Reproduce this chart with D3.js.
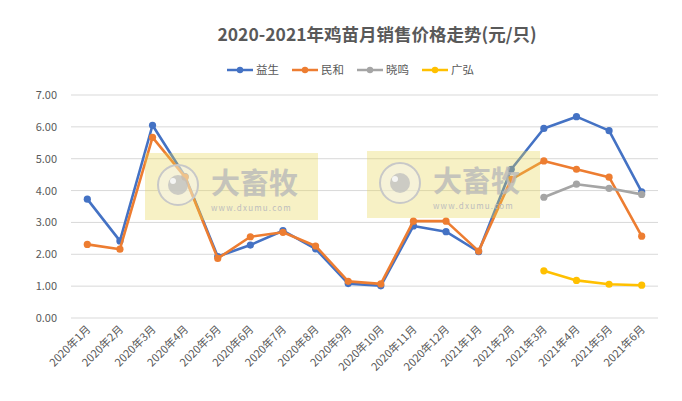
<!DOCTYPE html>
<html><head><meta charset="utf-8">
<script src="https://cdn.jsdelivr.net/npm/d3@7"></script>
<style>body{margin:0;background:#fff;font-family:"Microsoft YaHei","Noto Sans CJK SC",sans-serif}</style>
</head><body><svg id="c" width="682" height="401"></svg>
<script>
const categories=["2020年1月","2020年2月","2020年3月","2020年4月","2020年5月","2020年6月","2020年7月","2020年8月","2020年9月","2020年10月","2020年11月","2020年12月","2021年1月","2021年2月","2021年3月","2021年4月","2021年5月","2021年6月"];
const yisheng=[3.73,2.42,6.05,4.44,1.93,2.29,2.74,2.17,1.08,1.01,2.89,2.71,2.08,4.67,5.95,6.32,5.88,3.96];
const minhe=[2.31,2.16,5.67,4.42,1.87,2.55,2.69,2.26,1.15,1.07,3.04,3.04,2.10,4.35,4.93,4.67,4.42,2.57];
const xiaoming=[null,null,null,null,null,null,null,null,null,null,null,null,null,null,3.79,4.20,4.07,3.88];
const guanghong=[null,null,null,null,null,null,null,null,null,null,null,null,null,null,1.48,1.18,1.06,1.03];
const yTicks=[0,1,2,3,4,5,6,7];
const seriesNames=["益生","民和","晓鸣","广弘"];
const colors=["#4472C4","#ED7D31","#A5A5A5","#FFC000"];
const seriesData=[yisheng,minhe,xiaoming,guanghong];
const title="2020-2021年鸡苗月销售价格走势(元/只)";

const svg=d3.select("#c");
const L=71,R=658,T=95,B=318;
const x=d3.scaleBand().domain(categories).range([L,R]);
const y=d3.scaleLinear().domain([0,7]).range([B,T]);
const txt="#595959";

svg.append("text").attr("x",377).attr("y",41).attr("text-anchor","middle")
 .attr("font-size",17.5).attr("font-weight","bold").attr("fill",txt).text(title);

// legend
const lx=[227,292,357,422];
seriesNames.forEach((n,i)=>{
  const g=svg.append("g").attr("transform",`translate(${lx[i]},70)`);
  g.append("line").attr("x1",0).attr("x2",26).attr("stroke",colors[i]).attr("stroke-width",2.5);
  g.append("circle").attr("cx",13).attr("r",3.2).attr("fill",colors[i]);
  g.append("text").attr("x",29).attr("y",4).attr("font-size",11.5).attr("fill",txt).text(n);
});

// grid
svg.append("g").selectAll("line").data(yTicks).join("line")
 .attr("x1",L).attr("x2",R).attr("y1",d=>y(d)).attr("y2",d=>y(d))
 .attr("stroke","#d9d9d9").attr("stroke-width",1);
svg.append("g").selectAll("text").data(yTicks).join("text")
 .attr("x",57).attr("y",d=>y(d)+4).attr("text-anchor","end")
 .attr("font-size",11).attr("fill",txt).text(d=>d.toFixed(2));

// x labels
svg.append("g").selectAll("text").data(categories).join("text")
 .attr("transform",d=>`translate(${x(d)+x.bandwidth()/2+4},330) rotate(-45)`)
 .attr("text-anchor","end").attr("font-size",11).attr("fill",txt).text(d=>d);

// lines
const line=d3.line().defined(d=>d.v!=null).x(d=>x(d.c)+x.bandwidth()/2).y(d=>y(d.v));
seriesData.forEach((s,i)=>{
  const pts=s.map((v,j)=>({c:categories[j],v}));
  svg.append("path").attr("d",line(pts)).attr("fill","none").attr("stroke",colors[i])
   .attr("stroke-width",2.6).attr("stroke-linejoin","round");
  svg.append("g").selectAll("circle").data(pts.filter(d=>d.v!=null)).join("circle")
   .attr("cx",d=>x(d.c)+x.bandwidth()/2).attr("cy",d=>y(d.v)).attr("r",3.6).attr("fill",colors[i]);
});

// watermarks
function wm(x0,y0){
  const g=svg.append("g").attr("transform",`translate(${x0},${y0})`);
  g.append("rect").attr("width",173).attr("height",67).attr("fill","#e6d44e").attr("opacity",0.33);
  g.append("circle").attr("cx",33).attr("cy",32).attr("r",20).attr("fill","#f4f4f0").attr("fill-opacity",0.45).attr("stroke","#c8c8c8").attr("stroke-width",2);
  g.append("circle").attr("cx",33).attr("cy",32).attr("r",10).attr("fill","#bdbdbd").attr("opacity",0.75);
  g.append("circle").attr("cx",28).attr("cy",28).attr("r",3).attr("fill","#ffffff").attr("opacity",0.8);
  g.append("text").attr("x",66).attr("y",41).attr("font-size",29).attr("font-weight","bold").attr("fill","#b9b9b9").attr("opacity",0.8).text("大畜牧");
  g.append("text").attr("x",66).attr("y",58).attr("font-size",8).attr("letter-spacing",1.2).attr("fill","#bdbdbd").text("www.dxumu.com");
}
wm(145,153);
wm(367,151);
</script></body></html>
